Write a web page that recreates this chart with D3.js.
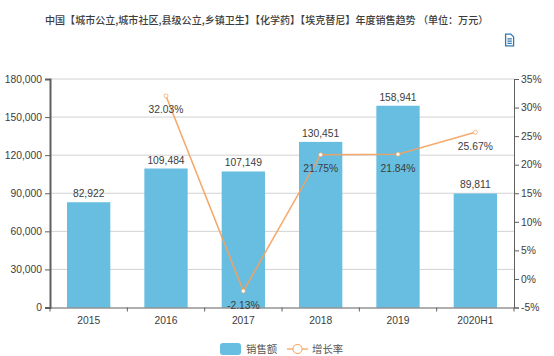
<!DOCTYPE html>
<html>
<head>
<meta charset="utf-8">
<script src="https://cdn.jsdelivr.net/npm/d3@7"></script>
<style>
    html, body { margin: 0; padding: 0; background: #fff; }
    text { font-family: "Liberation Sans", Arial, sans-serif; fill: #3c3c3c; }
    .cjk { font-family: "Noto Sans CJK SC", sans-serif; }
</style>
</head>
<body>
<div id="chart"></div>
<script>
// values
var categories = ["2015", "2016", "2017", "2018", "2019", "2020H1"];
var sales = [82922, 109484, 107149, 130451, 158941, 89811];
var growth = [null, 32.03, -2.13, 21.75, 21.84, 25.67];
var salesTicks = [0, 30000, 60000, 90000, 120000, 150000, 180000];
var growthTicks = [-5, 0, 5, 10, 15, 20, 25, 30, 35];
var titleText = "中国【城市公立,城市社区,县级公立,乡镇卫生】【化学药】【埃克替尼】年度销售趋势 （单位：万元）";
var legendBar = "销售额";
var legendLine = "增长率";

var width = 554, height = 356;
var margin = { top: 79, right: 40, bottom: 48.5, left: 50 };
var innerW = width - margin.left - margin.right,
    innerH = height - margin.top - margin.bottom;

var barColor = "#67bee0", lineColor = "#f4a15d", axisColor = "#5f5f5f";

var svg = d3.select("#chart").append("svg")
    .attr("width", width)
    .attr("height", height)
    .style("display", "block");

svg.append("text")
    .attr("class", "cjk")
    .attr("x", 45)
    .attr("y", 24)
    .style("font-size", "10.05px")
    .style("font-weight", "500")
    .text(titleText);

// save-as-data icon, top right
var icon = svg.append("g").attr("transform", "translate(505,33.5)")
    .attr("fill", "none").attr("stroke", "#2f77b0").attr("stroke-width", 1.3);
icon.append("path").attr("d", "M0.6,0.6H5.8L8.6,3.4V12.4H0.6Z");
icon.append("path").attr("d", "M2.4,5.4H6.8M2.4,7.6H6.8M2.4,9.8H6.8");

var g = svg.append("g")
    .attr("transform", "translate(" + margin.left + "," + margin.top + ")");

var x = d3.scaleBand().domain(categories).range([0, innerW]).paddingInner(0.44).paddingOuter(0.22);
var ySales = d3.scaleLinear().domain([0, 180000]).range([innerH, 0]);
var yGrowth = d3.scaleLinear().domain([-5, 35]).range([innerH, 0]);

// grid lines follow the left axis
g.selectAll(".grid")
    .data(salesTicks.slice(1))
    .join("line")
    .attr("class", "grid")
    .attr("x1", 0)
    .attr("x2", innerW)
    .attr("y1", function (d) { return ySales(d); })
    .attr("y2", function (d) { return ySales(d); })
    .attr("stroke", "#d2d2d2")
    .attr("stroke-width", 1);

g.selectAll(".bar")
    .data(sales)
    .join("rect")
    .attr("class", "bar")
    .attr("x", function (d, i) { return x(categories[i]); })
    .attr("y", function (d) { return ySales(d); })
    .attr("width", x.bandwidth())
    .attr("height", function (d) { return innerH - ySales(d); })
    .attr("fill", barColor);

var yLeft = g.append("g")
    .call(d3.axisLeft(ySales).tickValues(salesTicks).tickFormat(d3.format(",")).tickSize(5).tickPadding(3));
var yRight = g.append("g")
    .attr("transform", "translate(" + innerW + ",0)")
    .call(d3.axisRight(yGrowth).tickValues(growthTicks).tickFormat(function (d) { return d + "%"; }).tickSize(5).tickPadding(2));
var xAxis = g.append("g")
    .attr("transform", "translate(0," + innerH + ")")
    .call(d3.axisBottom(x).tickSize(0).tickPadding(9));

// x ticks sit between the categories
var step = x.step();
g.selectAll(".xtick")
    .data(d3.range(categories.length + 1))
    .join("line")
    .attr("class", "xtick")
    .attr("x1", function (d) { return d * step; })
    .attr("x2", function (d) { return d * step; })
    .attr("y1", innerH)
    .attr("y2", innerH + 4)
    .attr("stroke", axisColor);

[yLeft, yRight, xAxis].forEach(function (a) {
    a.selectAll("path").attr("stroke", axisColor);
    a.selectAll("line").attr("stroke", axisColor);
    a.selectAll("text").style("font-size", "10.3px").style("fill", "#3c3c3c")
        .style("font-family", '"Liberation Sans", Arial, sans-serif');
});
yLeft.select("path").attr("stroke-width", 2);

var lineData = growth.map(function (d, i) { return { cat: categories[i], v: d }; })
    .filter(function (d) { return d.v !== null; });
var cx = function (d) { return x(d.cat) + x.bandwidth() / 2; };

g.append("path")
    .datum(lineData)
    .attr("fill", "none")
    .attr("stroke", lineColor)
    .attr("stroke-opacity", 0.9)
    .attr("stroke-width", 1.6)
    .attr("d", d3.line().x(cx).y(function (d) { return yGrowth(d.v); }));

g.selectAll(".dot")
    .data(lineData)
    .join("circle")
    .attr("class", "dot")
    .attr("cx", cx)
    .attr("cy", function (d) { return yGrowth(d.v); })
    .attr("r", 2)
    .attr("fill", "#fff")
    .attr("stroke", lineColor)
    .attr("stroke-width", 0.7);

g.selectAll(".barlabel")
    .data(sales)
    .join("text")
    .attr("class", "barlabel")
    .attr("x", function (d, i) { return x(categories[i]) + x.bandwidth() / 2; })
    .attr("y", function (d) { return ySales(d) - 5; })
    .attr("text-anchor", "middle")
    .style("font-size", "10.3px")
    .text(d3.format(","));

g.selectAll(".linelabel")
    .data(lineData)
    .join("text")
    .attr("class", "linelabel")
    .attr("x", cx)
    .attr("y", function (d) { return yGrowth(d.v) + 17.5; })
    .attr("text-anchor", "middle")
    .style("font-size", "10.3px")
    .text(function (d) { return d.v.toFixed(2) + "%"; });

// legend
var legend = svg.append("g");
legend.append("rect")
    .attr("x", 220).attr("y", 343)
    .attr("width", 21).attr("height", 12).attr("rx", 3)
    .attr("fill", barColor);
legend.append("text")
    .attr("class", "cjk").attr("x", 246).attr("y", 353)
    .style("font-size", "10.4px").style("fill", "#555")
    .text(legendBar);
legend.append("line")
    .attr("x1", 287).attr("x2", 308).attr("y1", 349).attr("y2", 349)
    .attr("stroke", lineColor).attr("stroke-width", 1.2);
legend.append("circle")
    .attr("cx", 297.5).attr("cy", 349).attr("r", 4.6)
    .attr("fill", "#fff").attr("stroke", lineColor).attr("stroke-width", 1);
legend.append("text")
    .attr("class", "cjk").attr("x", 312).attr("y", 353)
    .style("font-size", "10.4px").style("fill", "#555")
    .text(legendLine);
</script>
</body>
</html>
